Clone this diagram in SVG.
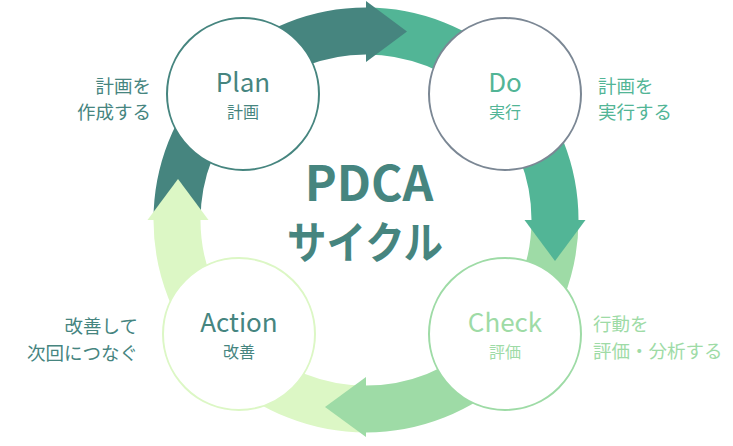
<svg xmlns="http://www.w3.org/2000/svg" width="733" height="446" viewBox="0 0 733 446">
<style>
.arc{fill:none;stroke-width:47;stroke-linecap:butt}
.node{fill:#ffffff;stroke-width:2}
.t{font-family:"Noto Sans CJK JP","Noto Sans",sans-serif}
.big{font-size:26px;text-anchor:middle}
.small{font-size:16px;text-anchor:middle}
.side{font-size:18.5px}
.title{font-weight:bold;text-anchor:middle;fill:#46857f}
</style>
<rect width="733" height="446" fill="#ffffff"/>
<g id="connectors">
<path class="arc" stroke="#46857f" d="M177,220 A189,189 0 0 1 366,31"/>
<path class="arc" stroke="#52b596" d="M366,31 A189,189 0 0 1 555,220"/>
<path class="arc" stroke="#9edba6" d="M555,220 A189,189 0 0 1 366,409"/>
<path class="arc" stroke="#dcf7c5" d="M366,409 A189,189 0 0 1 177,220"/>
<polygon fill="#46857f" points="366,1 407,31.5 366,62"/>
<polygon fill="#52b596" points="524.5,220 585.5,220 555,261"/>
<polygon fill="#9edba6" points="366,377 366,437 325,407"/>
<polygon fill="#dcf7c5" points="147.5,220 208.5,220 178,179"/>
</g>
<g id="plan">
<circle class="node" cx="243" cy="94" r="76" stroke="#46857f"/>
<text class="t big" x="243" y="92" fill="#46857f">Plan</text>
<text class="t small" x="243" y="118" fill="#46857f">計画</text>
<text class="t side" x="151" y="93" fill="#46857f" text-anchor="end">計画を</text>
<text class="t side" x="151" y="119" fill="#46857f" text-anchor="end">作成する</text>
</g>
<g id="do">
<circle class="node" cx="505" cy="94" r="76" stroke="#7b8794"/>
<text class="t big" x="505" y="92" fill="#52b596">Do</text>
<text class="t small" x="505" y="118" fill="#52b596">実行</text>
<text class="t side" x="598" y="93" fill="#52b596">計画を</text>
<text class="t side" x="598" y="119" fill="#52b596">実行する</text>
</g>
<g id="check">
<circle class="node" cx="505" cy="334" r="76" stroke="#9edba6"/>
<text class="t big" x="505" y="332" fill="#9edba6">Check</text>
<text class="t small" x="505" y="358" fill="#9edba6">評価</text>
<text class="t side" x="593" y="331" fill="#9edba6">行動を</text>
<text class="t side" x="593" y="358" fill="#9edba6">評価・分析する</text>
</g>
<g id="action">
<circle class="node" cx="239" cy="334" r="76" stroke="#dcf7c5"/>
<text class="t big" x="239" y="332" fill="#46857f">Action</text>
<text class="t small" x="239" y="358" fill="#46857f">改善</text>
<text class="t side" x="138" y="333" fill="#46857f" text-anchor="end">改善して</text>
<text class="t side" x="138" y="360" fill="#46857f" text-anchor="end">次回につなぐ</text>
</g>
<g id="title">
<text class="t title" x="369" y="201" font-size="48">PDCA</text>
<text class="t title" x="365" y="259" font-size="44" textLength="156" lengthAdjust="spacingAndGlyphs">サイクル</text>
</g>
</svg>
